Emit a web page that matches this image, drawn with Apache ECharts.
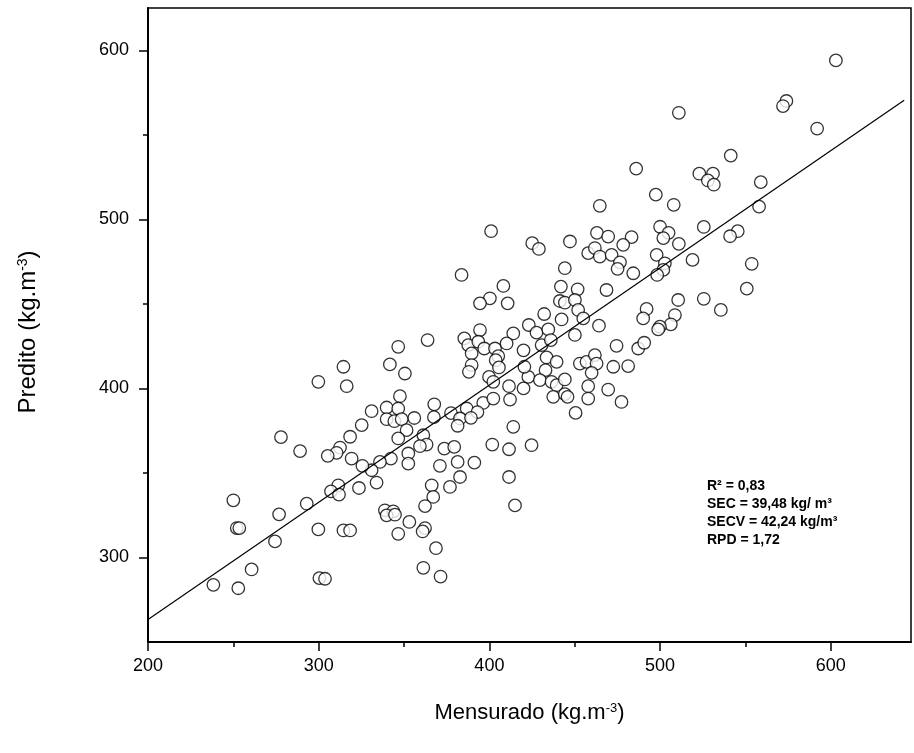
<!DOCTYPE html>
<html><head><meta charset="utf-8">
<script src="https://cdn.jsdelivr.net/npm/echarts@6/dist/echarts.min.js"></script>
<style>html,body{margin:0;padding:0;background:#fff}#c{width:914px;height:753px}</style>
</head><body><div id="c"></div>
<script>
// Mensurado (x) values
const measured = [
511,486,497.5,508,464.7,500,505,463,603,574,572,592,541.4,523,531,528,531.5,559,558,525.6,545.5,401,541,519,553.7,550.8,525.6,535.6,
425.1,429.0,447.2,469.6,483.3,478.4,457.9,461.8,464.7,471.6,476.5,475.1,484.3,501.9,511.0,498.0,502.8,501.9,498.3,444.2,441.9,451.7,468.6,441.3,444.2,450.1,452.0,455.0,432.1,442.3,464.2,423.1,427.6,434.5,430.6,436.0,450.1,510.6,492.1,490.1,508.7,506.3,499.9,498.9,474.5,487.2,490.7,433.5,439.4,453.0,456.9,461.8,462.8,459.9,472.6,481.3,432.9,422.8,429.6,436.4,439.4,444.2,457.9,469.6,457.9,437.4,444.2,445.8,477.4,450.5,420,420.5,420,
383.7,408.2,400.3,394.5,410.7,394.5,385.3,387.6,393.5,397.0,389.6,403.3,405.2,414.0,410.1,389.6,388.0,403.7,405.6,399.8,402.3,411.5,346.6,363.8,341.7,350.5,347.6,331.0,339.8,346.6,367.7,386.7,396.4,402.3,412.1,377.5,393,356,367.5,
339.8,344.3,348.6,351.5,346.6,382.8,389.2,381.4,361.3,363.2,359.3,352.5,352.5,342.3,335.9,331.0,333.9,373.6,379.4,371.0,381.4,391.2,382.8,366.2,376.9,367.1,362.3,414.0,401.7,411.5,411.5,415.0,338.8,343.7,339.8,344.7,353.1,346.6,362.3,360.9,368.7,361.3,371.4,
325.2,318.4,312.5,310.5,305.3,319.3,325.6,277.9,289.1,323.6,311.5,307.2,311.9,293.0,250.0,276.8,252.0,253.5,299.8,314.5,318.4,274.4,260.7,238.3,252.9,300.4,303.7,
314.5,299.8,316.4,424.7
];
// Predito (y) values
const predicted = [
563,530,514.6,508.6,508,495.6,492,492,594,570,567,553.7,537.7,527,527,523,520.5,522,507.5,495.5,493,493,490,476,473.7,459,453,446.4,
485.9,482.5,486.9,489.8,489.5,484.9,480.0,483.0,478.0,479.0,474.6,470.7,468.1,488.9,485.5,479.0,474.0,470.1,467.1,471.1,460.2,458.6,458.2,451.7,450.7,452.3,446.4,441.4,444.0,440.8,437.1,437.5,433.0,434.9,425.6,428.6,431.6,452.3,447.0,441.4,443.4,437.9,436.5,434.9,425.2,423.6,427.0,418.3,415.7,414.7,415.7,419.7,414.7,409.2,412.8,413.2,410.8,406.8,404.9,403.9,401.9,405.3,401.3,399.3,394.0,395.0,396.6,395.0,392.0,385.5,422.5,412.8,400,
467.1,460.6,453.3,450.3,450.3,434.5,429.6,425.6,427.6,423.6,420.7,423.6,419.1,432.5,426.6,413.8,409.8,416.7,412.4,406.8,403.9,401.3,424.6,428.6,414.2,408.8,395.4,386.5,388.7,388.1,390.6,388.1,391.4,394.0,393.4,385.4,386,382.5,383,
381.8,380.6,381.8,375.3,370.4,382.2,382.6,377.9,372.3,366.8,365.8,361.5,355.5,358.5,356.5,351.6,344.3,364.4,365.4,354.2,356.5,356.1,347.6,342.7,341.7,335.8,330.4,377.3,366.8,364.0,347.6,330.8,327.9,327.3,324.9,325.3,321.0,314.0,317.4,315.4,305.5,293.9,288.7,
378.3,371.4,365.0,361.9,360.1,358.5,354.2,371.2,362.9,341.1,342.7,339.1,337.2,331.8,333.8,325.5,317.4,317.4,316.6,316.0,316.0,309.5,292.9,283.8,281.8,287.8,287.4,
412.8,403.9,401.3,366.4
];
// fitted regression line end points
const fitX = [200, 643];
const fitY = [263.3, 570.5];
const xTickValues = [200, 300, 400, 500, 600];
const xMinorTickValues = [250, 350, 450, 550];
const yTickValues = [300, 400, 500, 600];
const yMinorTickValues = [350, 450, 550];
const statLines = ['R² = 0,83', 'SEC = 39,48 kg/ m³', 'SECV = 42,24 kg/m³', 'RPD = 1,72'];

const FONT = '"Liberation Sans", Arial, sans-serif';
const points = measured.map((x, i) => [x, predicted[i]]);
const fitLine = fitX.map((x, i) => [x, fitY[i]]);

const chart = echarts.init(document.getElementById('c'), null, {renderer: 'canvas'});
chart.setOption({
  animation: false,
  backgroundColor: '#fff',
  grid: {left: 148, right: 3, top: 8, bottom: 111, show: true, borderColor: '#000', borderWidth: 1.5,
         backgroundColor: 'transparent', outerBoundsMode: 'none', containLabel: false},
  xAxis: [{
    type: 'value', min: 200, max: 647,
    axisLine: {show: true, lineStyle: {color: '#000', width: 2}},
    axisTick: {show: true, length: 9, customValues: xTickValues, lineStyle: {color: '#000', width: 1.5}},
    splitLine: {show: false},
    axisLabel: {color: '#000', fontSize: 18, fontFamily: FONT, margin: 15, customValues: xTickValues},
    name: 'Mensurado (kg.m{sup|-3})', nameLocation: 'middle', nameGap: 60,
    nameTextStyle: {color: '#000', fontSize: 22, fontFamily: FONT,
      rich: {sup: {fontSize: 13, fontFamily: FONT, color: '#000', verticalAlign: 'top'}}}
  }, {
    type: 'value', min: 200, max: 647, position: 'bottom', offset: 0,
    axisLine: {show: false},
    axisTick: {show: true, length: 5, customValues: xMinorTickValues, lineStyle: {color: '#000', width: 1.5}},
    axisLabel: {show: false}, splitLine: {show: false}
  }],
  yAxis: [{
    type: 'value', min: 250, max: 625,
    axisLine: {show: true, lineStyle: {color: '#000', width: 2}},
    axisTick: {show: true, length: 9, customValues: yTickValues, lineStyle: {color: '#000', width: 1.5}},
    splitLine: {show: false},
    axisLabel: {color: '#000', fontSize: 18, fontFamily: FONT, margin: 19, customValues: yTickValues},
    name: 'Predito (kg.m{sup|-3})', nameLocation: 'middle', nameGap: 108,
    nameTextStyle: {color: '#000', fontSize: 24, fontFamily: FONT, padding: [0, 14, 0, 0],
      rich: {sup: {fontSize: 14, fontFamily: FONT, color: '#000', verticalAlign: 'top'}}}
  }, {
    type: 'value', min: 250, max: 625, position: 'left', offset: 0,
    axisLine: {show: false},
    axisTick: {show: true, length: 5, customValues: yMinorTickValues, lineStyle: {color: '#000', width: 1.5}},
    axisLabel: {show: false}, splitLine: {show: false}
  }],
  series: [{
    type: 'scatter', data: points, symbol: 'circle', symbolSize: 12.5,
    itemStyle: {color: '#fff', borderColor: '#000', borderWidth: 1.3},
    emphasis: {disabled: true}, z: 2
  }, {
    type: 'line', data: fitLine, symbol: 'none',
    lineStyle: {color: '#000', width: 1.2}, z: 3, silent: true
  }],
  graphic: [{
    type: 'group', left: 707, top: 479,
    children: statLines.map((t, i) => ({
      type: 'text', x: 0, y: i * 18,
      style: {text: t, font: 'bold 14px ' + FONT, fill: '#000'}
    }))
  }]
});
</script>
</body></html>
